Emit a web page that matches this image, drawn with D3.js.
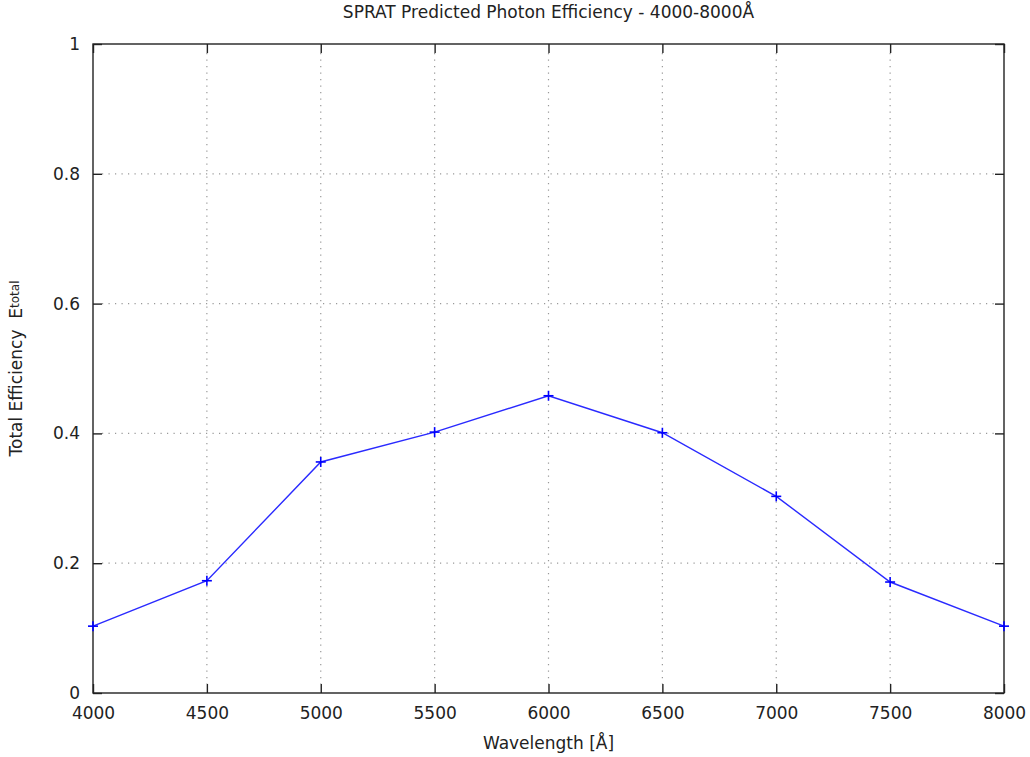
<!DOCTYPE html>
<html>
<head>
<meta charset="utf-8">
<script src="https://cdn.jsdelivr.net/npm/d3@7"></script>
<style>
  body { margin: 0; background: #fff; }
  svg text { font-family: "DejaVu Sans", sans-serif; fill: #222; }
</style>
</head>
<body>
<svg id="svg1" width="1030" height="757"></svg>
<script>
// data
const wavelengths = [4000, 4500, 5000, 5500, 6000, 6500, 7000, 7500, 8000];
const efficiency = [0.103, 0.173, 0.356, 0.402, 0.458, 0.401, 0.303, 0.171, 0.103];
const xTicks = [4000, 4500, 5000, 5500, 6000, 6500, 7000, 7500, 8000];
const yTicks = [0, 0.2, 0.4, 0.6, 0.8, 1];

const svg = d3.select("svg#svg1");
const width = +svg.attr('width');
const height = +svg.attr('height');
const margin = { top: 44, right: 26, bottom: 64, left: 93 };
const chartWidth = width - margin.left - margin.right;
const chartHeight = height - margin.top - margin.bottom;

const data = wavelengths.map((w, i) => ({ w: w, e: efficiency[i] }));

const xScale = d3.scaleLinear().domain([4000, 8000]).range([0, chartWidth]);
const yScale = d3.scaleLinear().domain([0, 1]).range([chartHeight, 0]);

let chartArea = svg.append("g")
    .attr("transform", `translate(${margin.left},${margin.top})`);

// gridlines
const grid = chartArea.append("g").attr("class", "gridlines");
grid.selectAll("line.vx").data(xTicks.slice(1, -1)).join("line")
    .attr("x1", d => xScale(d)).attr("x2", d => xScale(d))
    .attr("y1", 9).attr("y2", chartHeight - 9);
grid.selectAll("line.hy").data(yTicks.slice(1, -1)).join("line")
    .attr("y1", d => yScale(d)).attr("y2", d => yScale(d))
    .attr("x1", 9).attr("x2", chartWidth - 9);
grid.selectAll("line")
    .style("stroke", "#999")
    .style("stroke-width", 1.2)
    .style("stroke-dasharray", "1.2,5.3");

// axes with inward ticks, mirrored
const tickStyle = g => {
    g.select(".domain").remove();
    g.selectAll(".tick line").style("stroke", "#222").style("stroke-width", 1.4);
    g.selectAll(".tick text").style("font-size", "17px").style("fill", "#222");
};

chartArea.append("g")
    .attr("transform", `translate(0,${chartHeight})`)
    .call(d3.axisBottom(xScale).tickValues(xTicks).tickSizeInner(-9).tickSizeOuter(0).tickPadding(14).tickFormat(d3.format("d")))
    .call(tickStyle);
chartArea.append("g")
    .call(d3.axisTop(xScale).tickValues(xTicks).tickSizeInner(-9).tickSizeOuter(0).tickFormat(""))
    .call(tickStyle);
chartArea.append("g")
    .call(d3.axisLeft(yScale).tickValues(yTicks).tickSizeInner(-9).tickSizeOuter(0).tickPadding(13).tickFormat(d3.format("~g")))
    .call(tickStyle);
chartArea.append("g")
    .attr("transform", `translate(${chartWidth},0)`)
    .call(d3.axisRight(yScale).tickValues(yTicks).tickSizeInner(-9).tickSizeOuter(0).tickFormat(""))
    .call(tickStyle);

// border
chartArea.append("rect")
    .attr("width", chartWidth).attr("height", chartHeight)
    .style("fill", "none").style("stroke", "#222").style("stroke-width", 1.4);

// series line
const lineGen = d3.line().x(d => xScale(d.w)).y(d => yScale(d.e));
chartArea.append("path")
    .attr("d", lineGen(data))
    .style("fill", "none")
    .style("stroke", "#2a2aff")
    .style("stroke-width", 1.4);

// plus markers
const plus = chartArea.selectAll("g.pt").data(data).join("g")
    .attr("class", "pt")
    .attr("transform", d => `translate(${xScale(d.w)},${yScale(d.e)})`);
plus.append("line").attr("x1", -5).attr("x2", 5);
plus.append("line").attr("y1", -5).attr("y2", 5);
plus.selectAll("line").style("stroke", "#0000ff").style("stroke-width", 1.6);

// labels
svg.append("text")
    .attr("x", margin.left + chartWidth / 2).attr("y", 18)
    .attr("text-anchor", "middle")
    .style("font-size", "17px")
    .text("SPRAT Predicted Photon Efficiency - 4000-8000Å");

svg.append("text")
    .attr("x", margin.left + chartWidth / 2).attr("y", 749)
    .attr("text-anchor", "middle")
    .style("font-size", "17px")
    .text("Wavelength [Å]");

const yLabel = svg.append("text")
    .attr("transform", `translate(22,${margin.top + chartHeight / 2}) rotate(-90)`)
    .attr("text-anchor", "middle")
    .style("font-size", "17px")
    .style("white-space", "pre");
yLabel.append("tspan").text("Total Efficiency  E");
yLabel.append("tspan").attr("dy", -3).style("font-size", "12px").text("total");
</script>
</body>
</html>
